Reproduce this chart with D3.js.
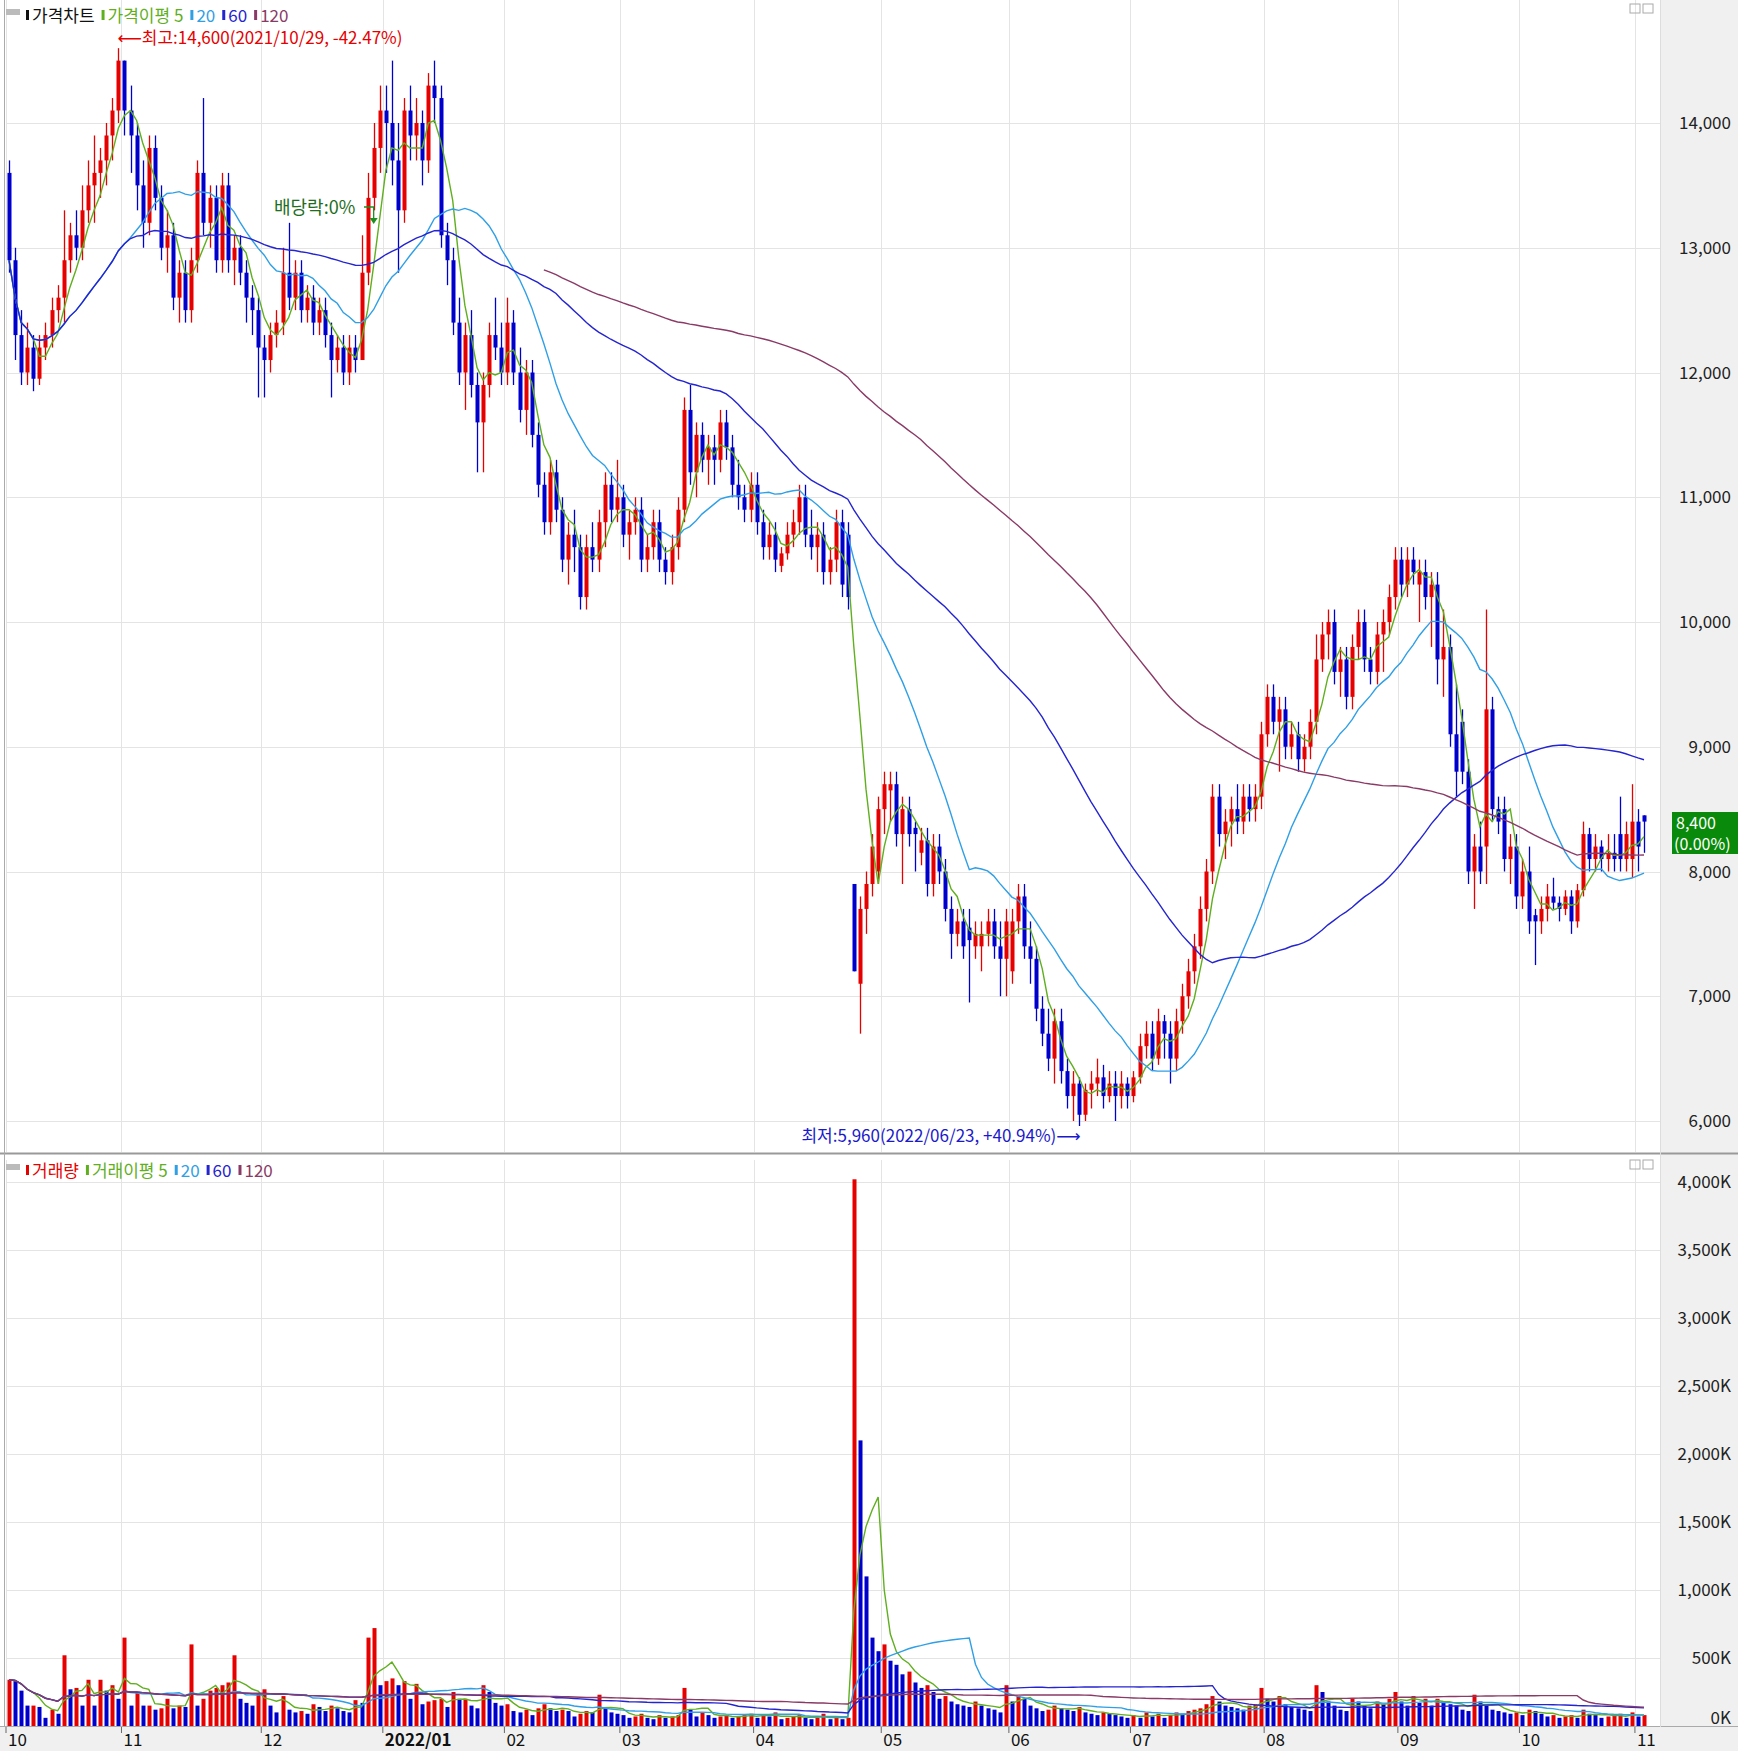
<!DOCTYPE html>
<html><head><meta charset="utf-8">
<script src="https://cdn.jsdelivr.net/npm/d3@7"></script>
<style>body{margin:0;background:#fff}svg{display:block;font-family:"Noto Sans CJK KR","DejaVu Sans",sans-serif}</style>
</head><body><svg id="c" width="1738" height="1751"></svg>
<script>
// [open, high, low, close] per trading day, grouped by month
const m2110=[[13600,13700,12800,12900],[12900,13000,12100,12300],[12300,12500,11900,12000],[12000,12400,11900,12200],[12200,12300,11850,11950],[11950,12300,11900,12200],[12200,12400,12100,12300],[12300,12600,12200,12500],[12500,12700,12400,12600],[12600,13300,12400,12900],[12900,13200,12800,13100],[13100,13300,12900,13000],[13000,13500,12900,13300],[13300,13700,13200,13500],[13500,13900,13200,13600],[13600,13800,13400,13700],[13700,14000,13500,13900],[13900,14200,13700,14100],[14100,14600,14000,14500]];
const m2111=[[14500,14500,13900,14100],[14100,14300,13600,13900],[13900,14000,13300,13500],[13500,13700,13000,13200],[13200,13900,13100,13800],[13800,13900,13300,13400],[13400,13500,12900,13000],[13000,13300,12800,13100],[13100,13200,12500,12600],[12600,12900,12400,12800],[12800,12900,12400,12500],[12500,13000,12400,12900],[12900,13700,12800,13600],[13600,14200,13100,13200],[13200,13500,13000,13400],[13400,13500,12800,12900],[12900,13600,12800,13500],[13500,13600,12800,12900],[12900,13100,12700,13000],[13000,13100,12700,12800],[12800,12900,12400,12600],[12600,12700,12300,12500],[12500,12600,11800,12200]];
const m2112=[[12200,12300,11800,12100],[12100,12400,12000,12300],[12300,12500,12200,12400],[12400,13000,12300,12800],[12800,13200,12500,12600],[12600,12900,12500,12800],[12800,12900,12400,12500],[12500,12700,12400,12600],[12600,12700,12300,12400],[12400,12600,12300,12500],[12500,12600,12200,12300],[12300,12400,11800,12100],[12100,12300,12000,12200],[12200,12300,11900,12000],[12000,12300,11900,12200],[12200,12300,12000,12100],[12100,13100,12100,12800],[12800,13600,12700,13400],[13400,14000,13300,13800],[13800,14300,13600,14100]];
const m2201=[[14100,14300,13600,14000],[14000,14500,13500,13700],[13700,14000,12800,13300],[13300,14200,13200,14100],[14100,14300,13700,13900],[13900,14200,13700,14000],[14000,14100,13500,13700],[13700,14400,13600,14300],[14300,14500,14000,14200],[14200,14300,13000,13100],[13100,13200,12700,12900],[12900,13000,12300,12400],[12400,12600,11900,12000],[12000,12400,11700,12300],[12300,12500,11800,11900],[11900,12000,11200,11600],[11600,12000,11200,11900],[11900,12400,11800,12300],[12300,12600,12100,12200],[12200,12400,11900,12000]];
const m2202=[[12000,12600,11900,12400],[12400,12500,11900,12000],[12000,12200,11600,11700],[11700,12100,11500,12000],[12000,12100,11400,11500],[11500,11600,11000,11100],[11100,11200,10700,10800],[10800,11300,10700,11200],[11200,11300,10800,10900],[10900,11000,10400,10500],[10500,10800,10300,10700],[10700,10900,10400,10600],[10600,10700,10100,10200],[10200,10700,10100,10600],[10600,10800,10400,10500],[10500,10900,10400,10800],[10800,11200,10600,11100],[11100,11200,10800,10900],[10900,11300,10800,11000]];
const m2203=[[11000,11100,10600,10700],[10700,10900,10500,10800],[10800,11000,10700,10900],[10900,11000,10400,10500],[10500,10700,10400,10600],[10600,10900,10500,10800],[10800,10900,10400,10500],[10500,10600,10300,10400],[10400,10700,10300,10600],[10600,11000,10500,10900],[10900,11800,10800,11700],[11700,11900,11100,11200],[11200,11600,11000,11500],[11500,11600,11200,11300],[11300,11500,11100,11400],[11400,11500,11100,11300],[11300,11700,11200,11600],[11600,11700,11300,11400],[11400,11500,11000,11100],[11100,11300,10900,11000],[11000,11100,10800,10900],[10900,11200,10800,11100]];
const m2204=[[11100,11200,10700,10800],[10800,10900,10500,10600],[10600,10800,10500,10700],[10700,10800,10400,10500],[10450,10600,10400,10550],[10550,10800,10500,10700],[10700,10900,10600,10800],[10800,11100,10700,11000],[11000,11100,10600,10700],[10700,10900,10500,10600],[10600,10800,10400,10700],[10700,10800,10300,10400],[10400,10600,10300,10500],[10500,10900,10400,10800],[10800,10900,10200,10300],[10700,10800,10100,10200],[7900,7900,7200,7200],[7100,7800,6700,7700],[7700,8000,7500,7900],[7900,8300,7800,8200],[8000,8600,7900,8500]];
const m2205=[[8500,8800,8300,8700],[8650,8800,8400,8700],[8700,8800,8200,8300],[8300,8600,7900,8500],[8500,8600,8200,8300],[8350,8400,8000,8300],[8150,8350,8050,8250],[8250,8350,7800,7900],[7900,8300,7800,8200],[8200,8300,7900,8000],[8000,8100,7600,7700],[7700,7800,7300,7500],[7500,7700,7400,7600],[7600,7700,7300,7400],[7550,7700,6950,7450],[7400,7600,7300,7500],[7400,7600,7200,7500],[7500,7700,7400,7600],[7600,7700,7300,7400],[7400,7600,7000,7300],[7300,7700,7000,7600]];
const m2206=[[7200,7700,7100,7600],[7600,7900,7500,7800],[7800,7900,7300,7400],[7400,7600,7100,7300],[7300,7400,6800,6900],[6900,7000,6600,6700],[6700,6900,6400,6500],[6500,6900,6300,6800],[6800,6900,6300,6400],[6400,6500,6100,6200],[6200,6400,6000,6300],[6300,6350,5960,6050],[6050,6300,6000,6250],[6250,6400,6100,6300],[6300,6500,6200,6350],[6350,6450,6100,6200],[6200,6400,6150,6300],[6300,6400,6000,6200],[6200,6400,6100,6300],[6300,6350,6100,6200]];
const m2207=[[6200,6400,6150,6350],[6350,6700,6300,6600],[6600,6800,6500,6700],[6700,6800,6400,6500],[6500,6900,6450,6800],[6800,6850,6500,6700],[6700,6800,6300,6500],[6500,6900,6400,6800],[6800,7100,6700,7000],[7000,7300,6900,7200],[7200,7500,7100,7400],[7400,7800,7300,7700],[7700,8100,7600,8000],[8000,8700,7900,8600],[8600,8700,8200,8300],[8300,8500,8100,8400],[8400,8600,8200,8500],[8500,8700,8300,8400],[8400,8700,8300,8600],[8600,8700,8400,8500],[8500,8700,8400,8600],[8600,9200,8500,9100]];
const m2208=[[9100,9500,9000,9400],[9400,9500,9100,9200],[9200,9400,8800,9300],[9300,9400,8900,9000],[9000,9200,8900,9100],[9100,9200,8800,8900],[8900,9100,8800,9000],[9000,9300,8900,9200],[9200,9900,9100,9700],[9700,10000,9600,9900],[9900,10100,9700,10000],[10000,10100,9500,9600],[9600,9800,9400,9700],[9700,9800,9300,9400],[9400,9900,9300,9800],[9800,10100,9700,10000],[10000,10100,9600,9700],[9700,9800,9500,9600],[9600,10000,9500,9900],[9900,10100,9600,10000],[10000,10300,9900,10200],[10200,10600,10100,10500]];
const m2209=[[10500,10600,10200,10300],[10300,10600,10200,10500],[10500,10600,10300,10400],[10300,10500,10000,10400],[10400,10500,10100,10200],[10200,10400,9800,10300],[10300,10400,9500,9700],[9700,10100,9400,9800],[9800,9900,9000,9100],[9100,9500,8600,8800],[9200,9300,8700,8800],[8800,8900,7900,8000],[8000,8300,7700,8200],[8200,8400,7900,8000],[8200,10100,7900,9300],[9300,9400,8400,8500],[8500,8600,8300,8400],[8500,8600,8000,8100],[8100,8300,7900,8200],[8200,8300,7700,7800]];
const m2210=[[7800,8100,7700,8000],[8000,8200,7500,7600],[7650,7700,7250,7600],[7600,7800,7500,7700],[7700,7900,7600,7800],[7800,7950,7700,7750],[7750,7800,7600,7700],[7700,7850,7650,7800],[7800,7850,7500,7600],[7600,7900,7550,7850],[7850,8400,7800,8300],[8300,8350,8000,8100],[8100,8300,8000,8200],[8200,8250,8000,8100],[8100,8300,8000,8150],[8150,8300,8000,8100],[8300,8600,8000,8100],[8100,8400,8000,8300],[8100,8700,7950,8400]];
const m2211=[[8400,8500,8000,8200],[8450,8450,8150,8400]];
// volume (thousand shares) per month
const v2110=[340,330,260,150,150,140,60,120,90,520,270,280,150,340,150,340,260,300,200];
const v2111=[650,150,250,150,150,120,130,200,130,150,140,600,150,200,260,280,300,320,520,200,170,150,240];
const v2112=[270,150,100,220,120,100,110,90,160,140,110,150,130,110,100,190,170,650,720,300];
const v2201=[330,350,300,330,200,310,160,180,190,200,140,250,200,200,150,130,300,250,170,150];
const v2202=[160,110,100,120,80,130,160,130,110,120,110,70,90,110,100,230,140,100,90];
const v2203=[80,60,70,90,60,50,80,60,70,80,280,120,70,100,80,60,70,80,60,70,80,90];
const v2204=[60,80,70,100,50,60,70,80,60,50,60,90,50,60,50,60,4020,2100,1100,650,550];
const v2205=[600,480,450,380,400,320,280,300,250,200,220,180,160,150,140,180,150,130,120,100,300];
const v2206=[180,220,200,150,130,110,120,150,130,120,110,140,100,90,80,100,90,80,70,60];
const v2207=[80,60,100,70,90,60,80,100,90,110,120,130,160,220,180,150,140,130,120,150,160,280];
const v2208=[200,180,220,160,140,130,120,110,300,250,180,150,120,110,200,180,150,130,180,160,200,250];
const v2209=[180,150,220,170,200,150,200,180,160,150,120,110,230,180,150,120,110,100,90,100];
const v2210=[80,120,110,90,70,80,60,70,80,60,120,90,80,60,70,80,90,60,100];
const v2211=[70,80];
const monthLabels=["10","11","12","2022/01","02","03","04","05","06","07","08","09","10","11"];
const priceTicks=[6000,7000,8000,9000,10000,11000,12000,13000,14000];
const volTicks=[0,500,1000,1500,2000,2500,3000,3500,4000];
const maPeriods=[5,20,60,120];

const months=[m2110,m2111,m2112,m2201,m2202,m2203,m2204,m2205,m2206,m2207,m2208,m2209,m2210,m2211];
const vmonths=[v2110,v2111,v2112,v2201,v2202,v2203,v2204,v2205,v2206,v2207,v2208,v2209,v2210,v2211];
const candles=months.flat(), vols=vmonths.flat();
const starts=[];let acc=0;months.forEach(m=>{starts.push(acc);acc+=m.length;});
const N=candles.length;
const svg=d3.select("#c");
const RED="#e60000",BLUE="#0000cc";
const maCol=["#5faf1e","#2f9fe6","#2424d0","#8a3a66"];
const xL=6,xR=1660;
const x=d3.scaleLinear().domain([0,N-1]).range([9,1644]);
const y=d3.scaleLinear().domain([6000,14000]).range([1121,123]);
const yv=d3.scaleLinear().domain([0,4000]).range([1726,1182]);
svg.append("rect").attr("x",xR).attr("y",0).attr("width",1738-xR).attr("height",1751).attr("fill","#f0f0f0");
svg.append("rect").attr("x",0).attr("y",1727).attr("width",1738).attr("height",24).attr("fill","#f0f0f0");
const g=svg.append("g");
function grid(y0,y1){starts.forEach(s=>{const gx=Math.round(x(s)-3)+0.5;g.append("line").attr("x1",gx).attr("x2",gx).attr("y1",y0).attr("y2",y1).attr("stroke","#e4e4e4");});}
grid(0,1152);grid(1160,1727);
priceTicks.forEach(t=>{g.append("line").attr("x1",xL).attr("x2",xR).attr("y1",Math.round(y(t))+.5).attr("y2",Math.round(y(t))+.5).attr("stroke","#e4e4e4");
 svg.append("text").attr("x",1731).attr("y",y(t)+6).attr("text-anchor","end").attr("font-size",17).attr("fill","#222").text(d3.format(",")(t));});
volTicks.forEach(t=>{g.append("line").attr("x1",xL).attr("x2",xR).attr("y1",Math.round(yv(t))+.5).attr("y2",Math.round(yv(t))+.5).attr("stroke","#e4e4e4");
 svg.append("text").attr("x",1731).attr("y",yv(t)+(t==0?-2:6)).attr("text-anchor","end").attr("font-size",17).attr("fill","#222").text(d3.format(",")(t)+"K");});
svg.append("line").attr("x1",0).attr("x2",1738).attr("y1",1153.5).attr("y2",1153.5).attr("stroke","#999").attr("stroke-width",2);
svg.append("line").attr("x1",4.5).attr("x2",4.5).attr("y1",0).attr("y2",1727).attr("stroke","#aaa");
svg.append("line").attr("x1",0).attr("x2",1738).attr("y1",1726.5).attr("y2",1726.5).attr("stroke","#aaa");
svg.append("line").attr("x1",xR+.5).attr("x2",xR+.5).attr("y1",0).attr("y2",1727).attr("stroke","#ddd");
monthLabels.forEach((l,i)=>{svg.append("text").attr("x",x(starts[i])-1).attr("y",1746).attr("font-size",17).attr("font-weight",l.length>2?"bold":"normal").attr("fill","#111").text(l);
 svg.append("line").attr("x1",x(starts[i])-3).attr("x2",x(starts[i])-3).attr("y1",1727).attr("y2",1733).attr("stroke","#666");});
function ma(arr,p,minStart){return arr.map((_,i)=>{if(i<minStart)return null;const s=Math.max(0,i-p+1);return d3.mean(arr.slice(s,i+1));});}
const closes=candles.map(c=>c[3]);
const minStartP=[0,0,0,88];
const line=(sc)=>d3.line().defined(d=>d!=null).x((d,i)=>x(i)).y(d=>sc(d));
const cw=4;
candles.forEach((c,i)=>{const [o,h,l,cl]=c;const col=cl>=o?RED:BLUE;const cx=Math.round(x(i));
 g.append("line").attr("x1",cx+.5).attr("x2",cx+.5).attr("y1",y(h)).attr("y2",y(l)).attr("stroke",col).attr("stroke-width",1.3);
 const top=y(Math.max(o,cl)),bot=y(Math.min(o,cl));
 g.append("rect").attr("x",cx-1.5).attr("y",top).attr("width",cw).attr("height",Math.max(1.5,bot-top)).attr("fill",col);});
maPeriods.forEach((p,k)=>{g.append("path").datum(ma(closes,p,minStartP[k])).attr("d",line(y)).attr("fill","none").attr("stroke",maCol[k]).attr("stroke-width",1.4);});
vols.forEach((v,i)=>{const col=(i==0||v>=vols[i-1])?RED:BLUE;const cx=Math.round(x(i));
 g.append("rect").attr("x",cx-1.5).attr("y",yv(v)).attr("width",cw).attr("height",yv(0)-yv(v)).attr("fill",col);});
maPeriods.forEach((p,k)=>{g.append("path").datum(ma(vols,p,0)).attr("d",line(yv)).attr("fill","none").attr("stroke",maCol[k]).attr("stroke-width",1.4);});
function legend(yy,items){svg.append("rect").attr("x",6).attr("y",yy-13).attr("width",14).attr("height",6).attr("fill","#bbb");let cx=26;
 items.forEach(([t,col,mark])=>{if(mark){svg.append("rect").attr("x",cx).attr("y",yy-12).attr("width",3).attr("height",10).attr("fill",col);cx+=6;}
 const tx=svg.append("text").attr("x",cx).attr("y",yy).attr("font-size",17).attr("fill",col).text(t);cx+=tx.node().getComputedTextLength()+7;});}
legend(22,[["가격차트","#111",1],["가격이평 5",maCol[0],1],["20",maCol[1],1],["60",maCol[2],1],["120",maCol[3],1]]);
legend(1177,[["거래량",RED,1],["거래이평 5",maCol[0],1],["20",maCol[1],1],["60",maCol[2],1],["120",maCol[3],1]]);
const hiI=d3.maxIndex(candles,c=>c[1]),loI=d3.minIndex(candles,c=>c[2]);
svg.append("text").attr("x",x(hiI)-1).attr("y",44).attr("font-size",17).attr("fill",RED).text("⟵최고:14,600(2021/10/29, -42.47%)");
svg.append("text").attr("x",x(loI)+2).attr("y",1142).attr("text-anchor","end").attr("font-size",17).attr("fill","#1a1acc").text("최저:5,960(2022/06/23, +40.94%)⟶");
svg.append("text").attr("x",274).attr("y",214).attr("font-size",18).attr("fill","#1e6e1e").text("배당락:0%");
const dx=x(60);
svg.append("path").attr("d",`M364,207 H${dx} V222`).attr("fill","none").attr("stroke","#1e8e1e").attr("stroke-width",1.3);
svg.append("path").attr("d",`M${dx-4},218 L${dx},224 L${dx+4},218Z`).attr("fill","#1e8e1e");
svg.append("rect").attr("x",1672).attr("y",812).attr("width",66).attr("height",42).attr("fill","#0a8a0a");
svg.append("text").attr("x",1676).attr("y",829).attr("font-size",16).attr("fill","#fff").text("8,400");
svg.append("text").attr("x",1674).attr("y",850).attr("font-size",16).attr("fill","#fff").text("(0.00%)");
[[1630,4],[1630,1160]].forEach(([ix,iy])=>{svg.append("rect").attr("x",ix).attr("y",iy).attr("width",10).attr("height",9).attr("fill","none").attr("stroke","#aaa");svg.append("rect").attr("x",ix+13).attr("y",iy).attr("width",10).attr("height",9).attr("fill","none").attr("stroke","#aaa");});
</script></body></html>
